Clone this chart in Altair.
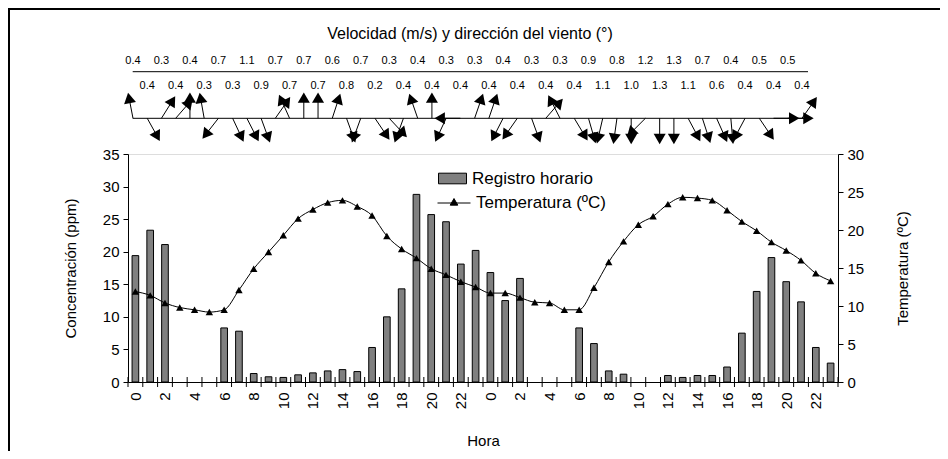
import altair as alt
import pandas as pd

FONT = "Liberation Sans"

# ---------------- data ----------------
hours = list(range(48))
conc = [19.4, 23.3, 21.1, None, None, None, 8.3, 7.8, 1.3, 0.8, 0.7, 1.1, 1.4, 1.7, 1.9, 1.6,
        5.3, 10.0, 14.3, 28.8, 25.7, 24.6, 18.1, 20.2,
        16.8, 12.5, 15.9, None, None, None, 8.3, 5.9, 1.7, 1.2, None, None, 1.0, 0.7, 1.0, 1.0,
        2.3, 7.5, 13.9, 19.1, 15.4, 12.3, 5.3, 2.9]
temp = [11.9, 11.4, 10.4, 9.8, 9.5, 9.2, 9.5, 12.1, 14.9, 17.1, 19.3, 21.5, 22.7, 23.6, 23.9, 23.1,
        21.9, 19.2, 17.5, 16.3, 14.9, 14.1, 13.2, 12.5,
        11.7, 11.7, 11.1, 10.5, 10.4, 9.5, 9.5, 12.4, 15.8, 18.5, 20.7, 21.8, 23.4, 24.3, 24.2, 23.9,
        22.6, 21.1, 19.9, 18.4, 17.3, 16.0, 14.3, 13.3]
speed = [0.4, 0.4, 0.3, 0.4, 0.4, 0.3, 0.7, 0.3, 1.1, 0.9, 0.7, 0.7, 0.7, 0.7, 0.6, 0.8,
         0.7, 0.2, 0.3, 0.4, 0.4, 0.4, 0.3, 0.4,
         0.3, 0.4, 0.4, 0.4, 0.3, 0.4, 0.3, 0.4, 0.9, 1.1, 0.8, 1.0, 1.2, 1.3, 1.3, 1.1,
         0.7, 0.6, 0.4, 0.4, 0.5, 0.4, 0.5, 0.4]
direction = [349, 151, 32, 41, 0, 350, 218, 155, 153, 160, 35, 336, 0, 0, 18, 160,
             200, 146, 137, 200, 341, 0, 205, 270,
             19, 19, 207, 215, 160, 41, 333, 149, 164, 193, 188, 180, 225, 180, 180, 152,
             162, 156, 175, 208, 146, 90, 90, 35]
bar_name = "Registro horario"
line_name = "Temperatura (ºC)"
wind_title = "Velocidad (m/s) y dirección del viento (°)"

df = pd.DataFrame({"h": hours, "conc": conc, "temp": temp, "speed": speed, "dir": direction})
df["sbar"] = bar_name
df["sline"] = line_name

axis_common = dict(labelFont=FONT, titleFont=FONT, labelFontSize=15, titleFontSize=15,
                   labelColor="black", titleColor="black", domainColor="black",
                   tickColor="black", titleFontWeight="normal", grid=False, tickSize=5)

XS = alt.Scale(domain=[-0.5, 47.5], nice=False, zero=False)
YC = alt.Scale(domain=[0, 35], nice=False, zero=False)
YT = alt.Scale(domain=[0, 30], nice=False, zero=False)

XAX = alt.Axis(orient="bottom", values=list(range(0, 48, 2)), ticks=False,
               labelExpr="'' + (datum.value % 24)", labelAngle=270,
               labelOverlap=False, labelPadding=10, titlePadding=25,
               labelFlush=False, **axis_common)
YCAX = alt.Axis(orient="left", title="Concentración (ppm)",
                values=list(range(0, 36, 5)), labelPadding=4, titlePadding=24,
                **axis_common)
YTAX = alt.Axis(orient="right", title="Temperatura (ºC)",
                values=list(range(0, 31, 5)), labelPadding=4, titlePadding=47,
                titleAngle=270, **axis_common)

# ---------------- concentration layer ----------------
bars = alt.Chart(df).transform_calculate(
    xl="datum.h - 0.225", xr="datum.h + 0.225"
).mark_bar(stroke="black", strokeWidth=1).encode(
    x=alt.X("xl:Q", scale=XS, title="Hora", axis=XAX),
    x2="xr:Q",
    y=alt.Y("conc:Q", scale=YC, title="Concentración (ppm)", axis=YCAX),
    y2=alt.Y2(datum=0),
    fill=alt.Fill("sbar:N", scale=alt.Scale(range=["#808080"]),
                  legend=alt.Legend(title=None, orient="none", legendX=310, legendY=10,
                                    symbolType="M-1,-0.38H1V0.38H-1Z", symbolSize=784,
                                    symbolStrokeColor="black", symbolStrokeWidth=1,
                                    labelFont=FONT, labelFontSize=17, labelColor="black",
                                    labelOffset=5)),
)

xticks = alt.Chart(pd.DataFrame({"h": hours + [48]})).transform_calculate(
    xb="datum.h - 0.5"
).mark_rule(color="black", strokeWidth=1).encode(
    x=alt.X("xb:Q", scale=XS, title="Hora", axis=XAX), y=alt.value(223), y2=alt.value(233))

layer_conc = alt.layer(bars, xticks)

# ---------------- temperature + wind layer ----------------
line = alt.Chart(df).mark_line(interpolate="monotone", strokeWidth=1).encode(
    x=alt.X("h:Q", scale=XS, title="Hora", axis=XAX),
    y=alt.Y("temp:Q", scale=YT, title="Temperatura (ºC)", axis=YTAX),
    stroke=alt.Stroke("sline:N", scale=alt.Scale(range=["black"]),
                      legend=alt.Legend(title=None, orient="none", legendX=309, legendY=32,
                                        symbolType="M-1,0H1M0,-0.27L0.23,0.13L-0.23,0.13Z",
                                        symbolSize=1089, symbolFillColor="black",
                                        symbolStrokeColor="black", symbolStrokeWidth=1,
                                        labelFont=FONT, labelFontSize=17, labelColor="black",
                                        labelOffset=5)),
)
pts = alt.Chart(df).mark_point(shape="triangle-up", size=55, filled=True, color="black",
                               opacity=1).encode(
    x=alt.X("h:Q", scale=XS, title="Hora", axis=XAX),
    y=alt.Y("temp:Q", scale=YT, title="Temperatura (ºC)", axis=YTAX))

# wind panel sits above the plot; its positions are mapped onto the same scales
W0 = 34.7           # baseline level (temperature-scale units, above the 30 top)
wbase = alt.Chart(df).transform_calculate(
    wx="-0.162 + 0.9623*datum.h",
    wy=str(W0),
).transform_calculate(
    wxe="datum.wx + 1.40*sin(datum.dir*PI/180)",
    wye="datum.wy + 2.72*cos(datum.dir*PI/180)",
)
arrows = wbase.mark_rule(color="black", strokeWidth=1).encode(
    x=alt.X("wx:Q", scale=XS, title="Hora", axis=XAX),
    y=alt.Y("wy:Q", scale=YT, title="Temperatura (ºC)", axis=YTAX),
    x2="wxe:Q", y2="wye:Q")
heads = wbase.mark_point(shape="triangle-up", filled=True, size=145, color="black",
                         opacity=1).encode(
    x=alt.X("wxe:Q", scale=XS, title="Hora", axis=XAX),
    y=alt.Y("wye:Q", scale=YT, title="Temperatura (ºC)", axis=YTAX),
    angle=alt.Angle("dir:Q", scale=None))
lab_top = wbase.transform_filter("datum.h % 2 == 0").mark_text(
    font=FONT, fontSize=11, color="black").encode(
    x=alt.X("wx:Q", scale=XS, title="Hora", axis=XAX), y=alt.value(-93),
    text=alt.Text("speed:Q", format=".1f"))
lab_bot = wbase.transform_filter("datum.h % 2 == 1").mark_text(
    font=FONT, fontSize=11, color="black").encode(
    x=alt.X("wx:Q", scale=XS, title="Hora", axis=XAX), y=alt.value(-68.3),
    text=alt.Text("speed:Q", format=".1f"))

one = pd.DataFrame({"t": [wind_title]})
baseline = alt.Chart(one).mark_rule(color="black", strokeWidth=1).encode(
    x=alt.value(4.7), x2=alt.value(680), y=alt.value(-35.7))
topline = alt.Chart(one).mark_rule(color="black", strokeWidth=1).encode(
    x=alt.value(4.7), x2=alt.value(680), y=alt.value(-82.3))
title = alt.Chart(one).mark_text(font=FONT, fontSize=16, color="black").encode(
    x=alt.value(342), y=alt.value(-120), text="t:N")
frame_v = alt.Chart(one).mark_rule(color="black", strokeWidth=2).encode(
    x=alt.value(-119), y=alt.value(-145), y2=alt.value(400))
frame_h = alt.Chart(one).mark_rule(color="black", strokeWidth=2).encode(
    x=alt.value(-120), x2=alt.value(830), y=alt.value(-145))

layer_temp = alt.layer(line, pts, baseline, topline, arrows, heads, lab_top, lab_bot,
                       title, frame_v, frame_h)

chart = alt.layer(layer_conc, layer_temp).resolve_scale(y="independent").properties(
    width=710, height=228,
    autosize=alt.AutoSizeParams(type="none"),
    padding={"left": 120, "top": 146, "right": 102, "bottom": 69},
).configure_view(stroke="#808080", strokeWidth=1).configure(background="white")

chart.save("out.html", embed_options={"renderer": "svg", "actions": False})
